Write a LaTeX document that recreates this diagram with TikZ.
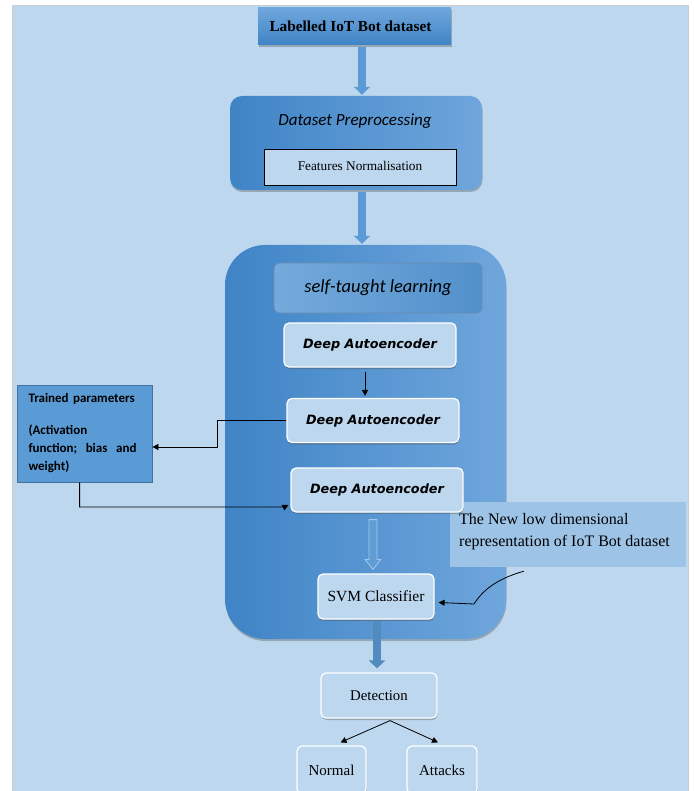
\documentclass[tikz,border=0pt]{standalone}
\usepackage{fontspec}
\setmainfont{Liberation Serif}
\newfontfamily\calfont{Carlito}
\newfontfamily\dejfont{DejaVu Sans}
\usetikzlibrary{arrows.meta,shadows,calc}
\definecolor{bg}{HTML}{BDD7EE}
\definecolor{dkL}{HTML}{3F84C6}
\definecolor{dkR}{HTML}{6FA6DC}
\definecolor{mid}{HTML}{5B9BD5}
\definecolor{edge}{HTML}{41719C}
\definecolor{lblfill}{HTML}{9DC3E6}
\definecolor{pale}{HTML}{A7C8EA}
\newcommand{\fs}[1]{\fontsize{#1}{#1}\selectfont}
\begin{document}
\begin{tikzpicture}[x=1pt,y=-1pt,
  shd/.style={drop shadow={shadow xshift=0.5pt,shadow yshift=-2pt,opacity=0.35,fill=black!70}},
  gradbox/.style={shading=axis,left color=dkL,right color=dkR,shading angle=90,draw=none,shd},
  lightbox/.style={draw=white,line width=1.2pt,fill=bg,rounded corners=5pt,shd,inner sep=0pt},
  dabox/.style={lightbox,minimum width=172pt,minimum height=44pt,font=\dejfont\bfseries\itshape\fs{12.8}},
  blockarrow/.style={draw=mid,line width=7.5pt,-{Triangle[width=16pt,length=8pt]}},
  thin/.style={draw=black,line width=0.8pt,-{Triangle[width=6pt,length=6pt]}},
]
\useasboundingbox (0,0) rectangle (693,791);
\fill[white] (0,0) rectangle (693,791);
\draw[fill=bg,draw=black!20,line width=0.8pt] (12,5) rectangle (688,800);

% top
\node[draw=none,top color=dkR,bottom color=dkL,minimum width=193pt,minimum height=37pt,inner sep=0pt,shd,
  font=\bfseries\fs{15.3}] (top) at (354.5,26.5) {\hspace*{-8pt}Labelled IoT Bot dataset};

% preprocessing
\node[gradbox,rounded corners=12pt,minimum width=252pt,minimum height=94pt] (prep) at (356,143) {};
\node[font=\calfont\itshape\fs{17}] (preptitle) at (355,121) {Dataset Preprocessing};
\node[draw=black,line width=1pt,fill=bg,minimum width=192pt,minimum height=36pt,inner sep=0pt,font=\fs{13.3}] (fn) at (360,168) {\raisebox{5pt}{Features Normalisation}};

% container
\node[gradbox,rounded corners=40pt,minimum width=281pt,minimum height=394pt] (cont) at (365.5,442) {};

% label
\node[fill=lblfill,minimum width=236pt,minimum height=65pt,inner sep=0pt] (lbl) at (568,534.5) {};
\node[anchor=base west,align=left,inner sep=0pt,font=\fontsize{16}{22}\selectfont] (lbltext) at (459,546)
  {The New low dimensional\\representation of IoT Bot dataset};

\node[shading=axis,left color=mid!85!white,right color=dkL!90!white,shading angle=90,draw=edge!80,line width=0.8pt,rounded corners=6pt,
  minimum width=208pt,minimum height=50pt,inner sep=0pt,font=\calfont\itshape\fs{18.5}] (stl) at (378,288) {self-taught learning};

\node[dabox] (da1) at (370,345) {Deep Autoencoder};
\node[dabox] (da2) at (373,420.5) {Deep Autoencoder};
\node[dabox] (da3) at (377,490) {Deep Autoencoder};

% trained params
\node[draw=edge,line width=0.8pt,fill=mid,minimum width=135pt,minimum height=97pt,inner sep=0pt,
  font=\calfont\bfseries\fontsize{13}{18}\selectfont,text width=112pt,align=left] (tp) at (84.5,433.5)
  {Trained parameters\\[14pt](Activation\\\leavevmode\hbox to 108pt{function;\hfil bias\hfil and}\\weight)};

% classifier & detection
\node[lightbox,minimum width=116pt,minimum height=45pt,font=\fs{15.5}] (svm) at (376,596.5) {SVM Classifier};
\node[lightbox,minimum width=116pt,minimum height=45pt,font=\fs{14.8}] (det) at (379,695.5) {Detection};
\node[lightbox,minimum width=69pt,minimum height=48pt,font=\fs{15}] (normal) at (331.5,770) {Normal};
\node[lightbox,minimum width=70pt,minimum height=48pt,font=\fs{15}] (attacks) at (442,770) {Attacks};

% connectors
\coordinate (ax1) at (362,0);
\coordinate (ax2) at (365,0);
\coordinate (ax3) at (373,0);
\coordinate (ax4) at (377,0);
\draw[blockarrow,shorten <=2pt,shorten >=1pt] (top.south -| ax1) -- (prep.north -| ax1);
\draw[blockarrow,shorten <=2pt,shorten >=1pt] (prep.south -| ax1) -- (cont.north -| ax1);
\draw[thin,shorten <=4pt,shorten >=2pt] (da1.south -| ax2) -- (da2.north -| ax2);
\draw[thin] (da2.west) -- ++(-69,0) |- (tp.east |- 0,447);
\coordinate (tpdrop) at ($(tp.south west)+(63,0)$);
\draw[thin] (tpdrop) |- ($(da3.west)+(-6,17)$) -- ($(da3.west)+(-2,15)$);
% hollow arrow
\coordinate (hs) at ($(da3.south -| ax3)+(0,7)$);
\coordinate (he) at ($(svm.north -| ax3)+(0,-4)$);
\fill[mid!85!dkR,draw=pale,line width=0.8pt]
  ($(hs)+(-4,0)$) -- ($(he)+(-4,-10)$) -- ($(he)+(-8,-10)$) -- (he) -- ($(he)+(8,-10)$)
  -- ($(he)+(4,-10)$) -- ($(hs)+(4,0)$) -- cycle;
\draw[blockarrow,draw=mid!90!black,shorten <=1pt,shorten >=4pt] (svm.south -| ax4) -- (det.north -| ax4);
\coordinate (cs) at ($(lbl.south west)+(74,4)$);
\coordinate (cb) at (474,604);
\draw[thin] (cs) .. controls (500,578) and (484,588) .. (cb) -- ($(svm.east)+(4,6)$);
\coordinate (split) at ($(det.south)+(11,2)$);
\draw[thin] (split) -- ($(normal.north)+(9,-3)$);
\draw[thin] (split) -- ($(attacks.north)+(-4,-3)$);
\end{tikzpicture}
\end{document}
